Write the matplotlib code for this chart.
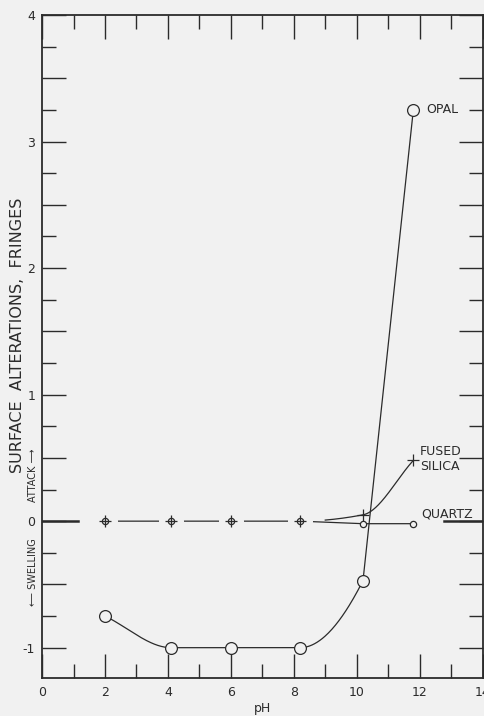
import numpy as np
import matplotlib
matplotlib.use("Agg")
import matplotlib.pyplot as plt
from matplotlib.ticker import MultipleLocator, FuncFormatter

# values
ph = [2, 4.1, 6, 8.2, 10.2, 11.8]
opal = [-0.75, -1.0, -1.0, -1.0, -0.47, 3.25]
quartz = [0, 0, 0, 0, -0.02, -0.02]
fused = [0, 0, 0, 0, 0.05, 0.48]

BG = "#f1f1f1"
INK = "#2b2b2b"


def pchip(x, y, xs):
    # shape preserving cubic through the measured points
    x = np.asarray(x, float)
    y = np.asarray(y, float)
    h = np.diff(x)
    d = np.diff(y) / h
    m = np.zeros_like(y)
    for k in range(1, len(x) - 1):
        if d[k - 1] * d[k] <= 0:
            m[k] = 0
        else:
            w1 = 2 * h[k] + h[k - 1]
            w2 = h[k] + 2 * h[k - 1]
            m[k] = (w1 + w2) / (w1 / d[k - 1] + w2 / d[k])
    m[0] = d[0]
    m[-1] = d[-1]
    out = np.empty_like(xs)
    for j, xv in enumerate(xs):
        k = min(max(np.searchsorted(x, xv) - 1, 0), len(x) - 2)
        t = (xv - x[k]) / h[k]
        h00 = 2 * t**3 - 3 * t**2 + 1
        h10 = t**3 - 2 * t**2 + t
        h01 = -2 * t**3 + 3 * t**2
        h11 = t**3 - t**2
        out[j] = h00 * y[k] + h10 * h[k] * m[k] + h01 * y[k + 1] + h11 * h[k] * m[k + 1]
    return out


plt.rcParams["font.family"] = ["DejaVu Sans"]
fig = plt.figure(figsize=(4.84, 7.16), dpi=100, facecolor=BG)
ax = fig.add_axes([0.087, 0.053, 0.91, 0.926], facecolor=BG)

# opal: smooth up to pH 10.2, then a straight run to the last point
xs = np.linspace(ph[0], ph[4], 300)
ax.plot(xs, pchip(ph, opal, xs), color=INK, lw=0.9, zorder=2)
ax.plot(ph[4:], opal[4:], color=INK, lw=0.9, zorder=2)
ax.plot(ph, opal, "o", ms=8.5, mfc=BG, mec=INK, mew=0.9, zorder=4)

fs = np.linspace(9.0, ph[-1], 200)
ax.plot(fs, pchip(ph, fused, fs), color=INK, lw=0.9, zorder=2)

ax.plot(ph, quartz, color=INK, lw=0.9, zorder=1)
ax.plot(ph[:4], quartz[:4], "o", ms=17, mfc=BG, mec=BG, zorder=1.5)
ax.plot(ph, quartz, "o", ms=4.5, mfc=BG, mec=INK, mew=0.9, zorder=3)
ax.plot(ph[:5], fused[:5], "+", ms=8, mec=INK, mew=0.9, zorder=3)
ax.plot(ph[5:], fused[5:], "+", ms=9, mec=INK, mew=0.9, zorder=3)

# zero reference marks at both edges
ax.axhline(0, xmin=0, xmax=0.082, color=INK, lw=1.8)
ax.axhline(0, xmin=0.913, xmax=1, color=INK, lw=1.8)

ax.text(12.2, 3.25, "OPAL", fontsize=9, color=INK, va="center")
ax.text(12.0, 0.49, "FUSED\nSILICA", fontsize=9, color=INK, va="center",
        linespacing=1.15)
ax.text(12.05, 0.06, "QUARTZ", fontsize=9, color=INK, va="center")

ax.set_xlim(0, 14)
ax.set_ylim(-1.24, 4)
ax.xaxis.set_major_locator(MultipleLocator(2))
ax.xaxis.set_minor_locator(MultipleLocator(1))
ax.yaxis.set_major_locator(MultipleLocator(0.5))
ax.yaxis.set_minor_locator(MultipleLocator(0.25))
ax.yaxis.set_major_formatter(
    FuncFormatter(lambda v, p: "%d" % round(v) if abs(v - round(v)) < 1e-6 else ""))
ax.tick_params(which="both", direction="in", top=True, right=True,
               color=INK, labelcolor=INK, labelsize=9, width=1.0)
ax.tick_params(which="major", length=17)
ax.tick_params(which="minor", length=10)
ax.tick_params(axis="x", pad=6)
ax.tick_params(axis="y", pad=5)
for s in ax.spines.values():
    s.set_color(INK)
    s.set_linewidth(1.3)

ax.set_xlabel("pH", fontsize=9, color=INK, labelpad=2)
fig.text(18 / 484, 1 - 335 / 716, "SURFACE  ALTERATIONS,  FRINGES",
         rotation=90, fontsize=11.5, color=INK, ha="center", va="center")

fig.text(33 / 484, 1 - 475 / 716, "ATTACK \u27f6", rotation=90, fontsize=7,
         color=INK, ha="center", va="center")
fig.text(33 / 484, 1 - 572 / 716, "\u27f5 SWELLING", rotation=90, fontsize=7,
         color=INK, ha="center", va="center")

fig.savefig("out.png", dpi=100, facecolor=BG)
